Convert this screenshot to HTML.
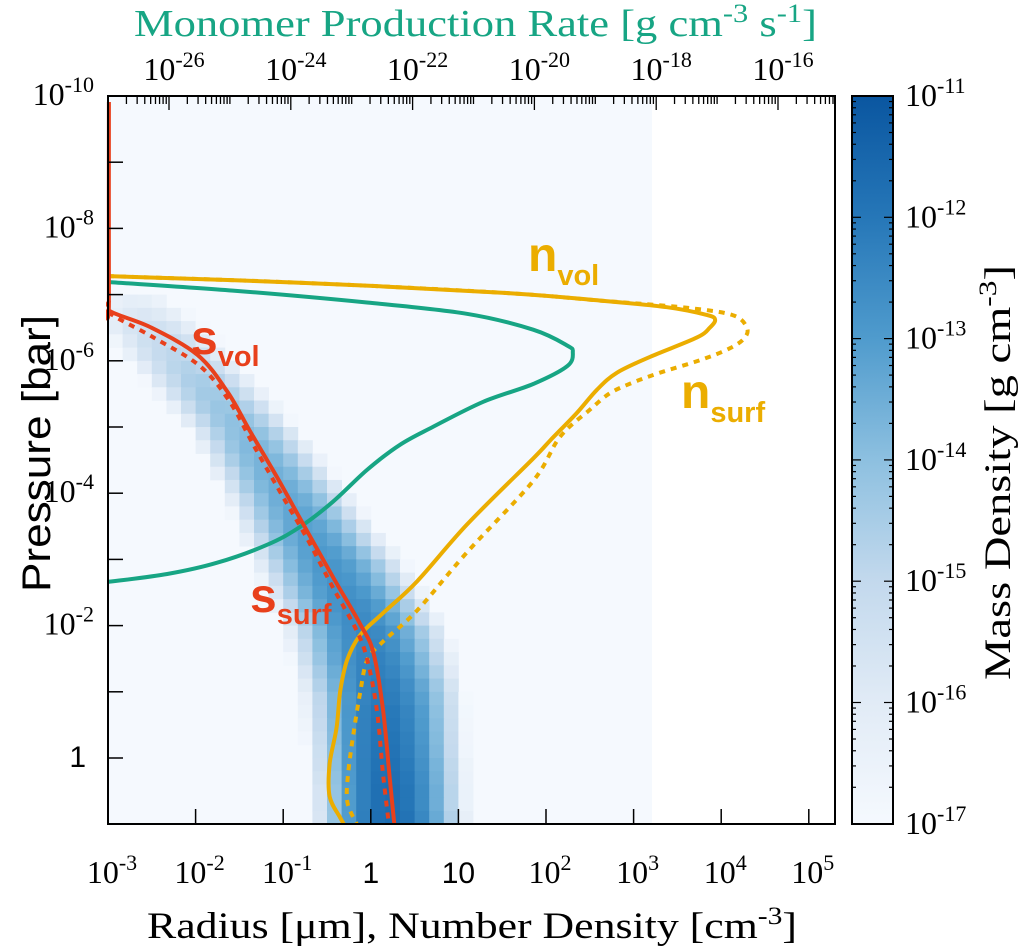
<!DOCTYPE html>
<html><head><meta charset="utf-8"><style>
html,body{margin:0;padding:0;background:#fff;}
svg{display:block;}
.serif{font-family:"Liberation Serif",serif;}
.sans{font-family:"Liberation Sans",sans-serif;}
</style></head><body>
<svg id="chart" width="1020" height="951" viewBox="0 0 1020 951" xmlns="http://www.w3.org/2000/svg">
<g id="heat"></g>
<g id="curves"></g>
<g id="axes"></g>
<g id="cbar"></g>
<g id="labels">
  <text class="serif" x="134" y="36" font-size="38" textLength="683" lengthAdjust="spacingAndGlyphs" fill="#17a584">Monomer Production Rate [g cm<tspan dy="-14" font-size="26">-3</tspan><tspan dy="14"> s</tspan><tspan dy="-14" font-size="26">-1</tspan><tspan dy="14">]</tspan></text>
  <text class="serif" x="147" y="938" font-size="37" textLength="650" lengthAdjust="spacingAndGlyphs" fill="#000">Radius [μm], Number Density [cm<tspan dy="-14" font-size="25">-3</tspan><tspan dy="14">]</tspan></text>
  <text class="sans" transform="translate(50,592) rotate(-90)" font-size="40" textLength="277" lengthAdjust="spacingAndGlyphs" fill="#000">Pressure [bar]</text>
  <text class="serif" transform="translate(1010,680) rotate(-90)" font-size="37" textLength="415" lengthAdjust="spacingAndGlyphs" fill="#000">Mass Density [g cm<tspan dy="-14" font-size="25">-3</tspan><tspan dy="14">]</tspan></text>
  <text class="sans" x="191" y="354" font-size="48" font-weight="bold" fill="#e8401c">s<tspan font-size="29" dy="12">vol</tspan></text>
  <text class="sans" x="250" y="612" font-size="48" font-weight="bold" fill="#e8401c">s<tspan font-size="29" dy="12">surf</tspan></text>
  <text class="sans" x="528" y="271" font-size="48" font-weight="bold" fill="#ebad00">n<tspan font-size="29" dy="14">vol</tspan></text>
  <text class="sans" x="681" y="408" font-size="48" font-weight="bold" fill="#ebad00">n<tspan font-size="29" dy="14">surf</tspan></text>
</g>
</svg>
<script>
// ---- data (log10 values) ----
const sVolLogR = [-2.99, -2.99, -2.98, -2.52, -1.98, -1.64, -1.38, -1.07, -0.77, -0.43, -0.12, 0.03, 0.14, 0.22, 0.28];
const sVolLogP = [-9.91, -6.90, -6.75, -6.51, -6.09, -5.54, -4.94, -4.24, -3.53, -2.73, -2.02, -1.59, -0.72, 0.36, 1.15];
const sSurfLogR = [-2.99, -2.98, -2.49, -1.95, -1.61, -1.34, -1.04, -0.73, -0.43, -0.16, -0.04, 0.07, 0.14, 0.22];
const sSurfLogP = [-6.90, -6.72, -6.36, -5.92, -5.38, -4.73, -4.03, -3.32, -2.57, -1.92, -1.48, -0.72, 0.25, 1.15];
const nVolLogN = [-3.00, -0.81, 1.47, 2.62, 3.38, 3.84, 3.93, 3.87, 3.72, 3.19, 2.81, 2.58, 2.35, 2.05, 1.85, 1.10, 0.53, 0.14, -0.12, -0.27, -0.35, -0.39, -0.47, -0.47, -0.35, -0.24];
const nVolLogP = [-7.28, -7.18, -7.03, -6.91, -6.81, -6.69, -6.62, -6.50, -6.35, -6.06, -5.82, -5.56, -5.21, -4.80, -4.52, -3.53, -2.67, -2.19, -1.86, -1.48, -1.00, -0.46, 0.09, 0.58, 0.90, 1.15];
const nSurfLogN = [-3.00, -0.81, 1.47, 2.62, 3.61, 4.13, 4.29, 4.27, 4.10, 3.76, 3.30, 2.99, 2.73, 2.50, 2.16, 1.85, 1.10, 0.53, 0.14, -0.04, -0.12, -0.20, -0.26, -0.27, -0.20, -0.09];
const nSurfLogP = [-7.28, -7.18, -7.03, -6.91, -6.80, -6.69, -6.51, -6.35, -6.19, -6.01, -5.82, -5.67, -5.51, -5.26, -4.85, -4.18, -3.11, -2.23, -1.76, -1.48, -1.00, -0.35, 0.25, 0.64, 0.90, 1.15];
const monoLogRate = [-27.00, -24.95, -22.75, -21.11, -20.02, -19.46, -19.37, -19.46, -20.02, -20.84, -21.67, -22.21, -22.75, -23.31, -23.85, -24.39, -25.21, -26.03, -27.00];
const monoLogP = [-7.19, -7.06, -6.88, -6.71, -6.47, -6.23, -6.13, -5.92, -5.65, -5.38, -5.00, -4.73, -4.35, -3.87, -3.49, -3.22, -2.95, -2.78, -2.66];
// heatmap rows (row start log P, step 0.2): centre log R, peak log density, width (decades)
const heatRowLogP = [-7.0,-6.8,-6.6,-6.4,-6.2,-6.0,-5.8,-5.6,-5.4,-5.2,-5.0,-4.8,-4.6,-4.4,-4.2,-4.0,-3.8,-3.6,-3.4,-3.2,-3.0,-2.8,-2.6,-2.4,-2.2,-2.0,-1.8,-1.6,-1.4,-1.2,-1.0,-0.8,-0.6,-0.4,-0.2,0.0,0.2,0.4,0.6,0.8];
const heatCenter = [-2.7,-2.6,-2.5,-2.35,-2.22,-2.08,-1.95,-1.82,-1.68,-1.55,-1.42,-1.32,-1.22,-1.12,-1.02,-0.92,-0.83,-0.74,-0.65,-0.55,-0.46,-0.38,-0.3,-0.21,-0.13,-0.05,-0.01,0.03,0.07,0.11,0.14,0.15,0.16,0.17,0.18,0.19,0.2,0.21,0.21,0.22];
const heatPeak = [-16.2,-15.8,-15.4,-15.1,-14.9,-14.7,-14.5,-14.35,-14.2,-14.05,-13.9,-13.75,-13.65,-13.55,-13.45,-13.35,-13.25,-13.15,-13.05,-12.95,-12.85,-12.8,-12.7,-12.6,-12.55,-12.45,-12.4,-12.3,-12.25,-12.15,-12.1,-12.0,-11.95,-11.9,-11.85,-11.8,-11.75,-11.7,-11.7,-11.65];
const heatWidth = [1.0,1.0,0.95,0.9,0.88,0.85,0.82,0.8,0.78,0.76,0.75,0.75,0.76,0.77,0.78,0.79,0.8,0.82,0.84,0.86,0.88,0.89,0.9,0.9,0.9,0.9,0.9,0.89,0.88,0.87,0.86,0.85,0.84,0.83,0.82,0.82,0.81,0.8,0.8,0.8];
const xTickExp = [-3,-2,-1,0,1,2,3,4,5];
const yTickExp = [-10,-8,-6,-4,-2,0];
const topTickExp = [-26,-24,-22,-20,-18,-16];
const cbTickExp = [-11,-12,-13,-14,-15,-16,-17];

// ---- scales ----
const L=108,R=835,T=96,B=824;
const xR = l => L + (l+3)*87.6;
const yP = l => T + (l+10)*66.2;
const xRate = l => 169 + (l+26)*60.9;
const CB = {x0:852,x1:893};
const cbY = l => T + (-11 - l)*121.3;
const NS='http://www.w3.org/2000/svg';
function el(tag, attrs, parent){const e=document.createElementNS(NS,tag);for(const k in attrs)e.setAttribute(k,attrs[k]);parent.appendChild(e);return e;}

const stops=[[-17,[245,249,254]],[-16,[225,235,246]],[-15,[195,217,237]],[-14,[141,192,224]],[-13,[79,155,205]],[-12,[38,119,184]],[-11,[10,86,160]]];
function cmap(v){v=Math.max(-17,Math.min(-11,v));for(let i=0;i<stops.length-1;i++){const a=stops[i],b=stops[i+1];if(v<=b[0]){const t=(v-a[0]);const c=a[1].map((x,k)=>Math.round(x+(b[1][k]-x)*t));return 'rgb('+c.join(',')+')';}}return 'rgb(10,86,160)';}

// ---- heatmap ----
const heat=document.getElementById('heat');
const bg=el('rect',{x:L,y:T,width:xR(3.21)-L,height:B-T,fill:'#f5f9fe'},heat);


for(let i=0;i<heatRowLogP.length;i++){
  const y0=yP(heatRowLogP[i]), y1=Math.min(yP(heatRowLogP[i]+0.2),B);
  if(y0>=B) continue;
  for(let j=0;j<37;j++){
    const lr=-3+(j+0.5)/6;
    const v=heatPeak[i]-4*Math.pow((lr-heatCenter[i])/heatWidth[i],2);
    if(v<=-16.95) continue;
    const c=el('rect',{x:xR(-3+j/6),y:y0,width:87.6/6+0.4,height:y1-y0+0.4,fill:cmap(v)},heat);
    
    
  }
}

// ---- curves ----
function smooth(pts){let d='M'+pts[0][0].toFixed(1)+','+pts[0][1].toFixed(1);
  for(let i=0;i<pts.length-1;i++){const p0=pts[i-1]||pts[i],p1=pts[i],p2=pts[i+1],p3=pts[i+2]||p2;
    const c1=[p1[0]+(p2[0]-p0[0])/6,p1[1]+(p2[1]-p0[1])/6],c2=[p2[0]-(p3[0]-p1[0])/6,p2[1]-(p3[1]-p1[1])/6];
    d+=' C'+c1.map(v=>v.toFixed(1)).join(',')+' '+c2.map(v=>v.toFixed(1)).join(',')+' '+p2.map(v=>v.toFixed(1)).join(',');}
  return d;}
const curves=document.getElementById('curves');
const defs=el('defs',{},curves);
const cp=el('clipPath',{id:'plotclip'},defs);
el('rect',{x:L-2,y:T,width:R-L+2,height:B-T},cp);
function drawLine(xs,ys,xf,color,dash,name){
  const pts=xs.map((v,i)=>[xf(v),yP(ys[i])]);
  const p=el('path',{d:smooth(pts),fill:'none',stroke:color,'stroke-width':4,'clip-path':'url(#plotclip)'},curves);
  if(dash) p.setAttribute('stroke-dasharray',dash);
  
  
}
drawLine(monoLogRate,monoLogP,xRate,'#17a584',null,'monomer-production-line');
drawLine(nSurfLogN,nSurfLogP,xR,'#ebad00','6,6','n-surf-line');
drawLine(nVolLogN,nVolLogP,xR,'#ebad00',null,'n-vol-line');
drawLine(sSurfLogR,sSurfLogP,xR,'#e8401c','6,6','s-surf-line');
drawLine(sVolLogR,sVolLogP,xR,'#e8401c',null,'s-vol-line');

// ---- axes ----
const axes=document.getElementById('axes');
const frame=el('rect',{x:L,y:T,width:R-L,height:B-T,fill:'none',stroke:'#000','stroke-width':2},axes);


function expLabel(parent,x,y,e,anchor,name){
  const t=el('text',{x:x,y:y,'text-anchor':anchor,'font-size':32,fill:'#000'},parent);
  if(e===0||e===1){t.setAttribute('class','sans');t.textContent=e===0?'1':'10';t.setAttribute('font-size',30);}
  else{t.setAttribute('class','serif');t.textContent='10';const s=el('tspan',{dy:-13,'font-size':22},t);s.textContent=String(e);}
  
  
  return t;
}
xTickExp.forEach(e=>{const x=xR(e);
  const tk=el('line',{x1:x,y1:B,x2:x,y2:B-15,stroke:'#000','stroke-width':1.5},axes);
  
  
  expLabel(axes,x+(e===0||e===1?0:4),883,e,'middle','x-tick-label');});
for(let e=-9;e<=0;e++){const y=yP(e);
  const tk=el('line',{x1:L,y1:y,x2:L+15,y2:y,stroke:'#000','stroke-width':1.5},axes);
  
  }
yTickExp.forEach(e=>{const y=yP(e);
  expLabel(axes,e===0?86:94,y+9,e,'end','y-tick-label');});
for(let d=-27;d<-15;d++){for(let k=1;k<=9;k++){const v=d+Math.log10(k);const x=xRate(v);if(x<=L+1||x>=R-1)continue;
  const major=(k===1&&d%2===0);
  const tk=el('line',{x1:x,y1:T,x2:x,y2:T+(major?14:8),stroke:'#000','stroke-width':1.3},axes);
  
  }}
topTickExp.forEach(e=>{expLabel(axes,xRate(e)+5,80,e,'middle','top-tick-label');});

// ---- colorbar ----
const cbar=document.getElementById('cbar');
const grad=el('linearGradient',{id:'cbgrad',x1:0,y1:1,x2:0,y2:0},defs);
stops.forEach(s=>{el('stop',{offset:((s[0]+17)/6).toFixed(3),'stop-color':cmap(s[0])},grad);});
const cbRect=el('rect',{x:CB.x0,y:T,width:CB.x1-CB.x0,height:B-T,fill:'url(#cbgrad)',stroke:'#000','stroke-width':2},cbar);


for(let d=-17;d<-11;d++){for(let k=1;k<=9;k++){const v=d+Math.log10(k);const y=cbY(v);const len=k===1?9:4;
  const a=el('line',{x1:CB.x0,y1:y,x2:CB.x0+len,y2:y,stroke:'#000','stroke-width':1.2},cbar);
  
  
  const b=el('line',{x1:CB.x1,y1:y,x2:CB.x1-len,y2:y,stroke:'#000','stroke-width':1.2},cbar);
  
  }}
cbTickExp.forEach(e=>{expLabel(cbar,905,cbY(e)+10,e,'start','colorbar-tick-label');});
</script>
</body></html>
